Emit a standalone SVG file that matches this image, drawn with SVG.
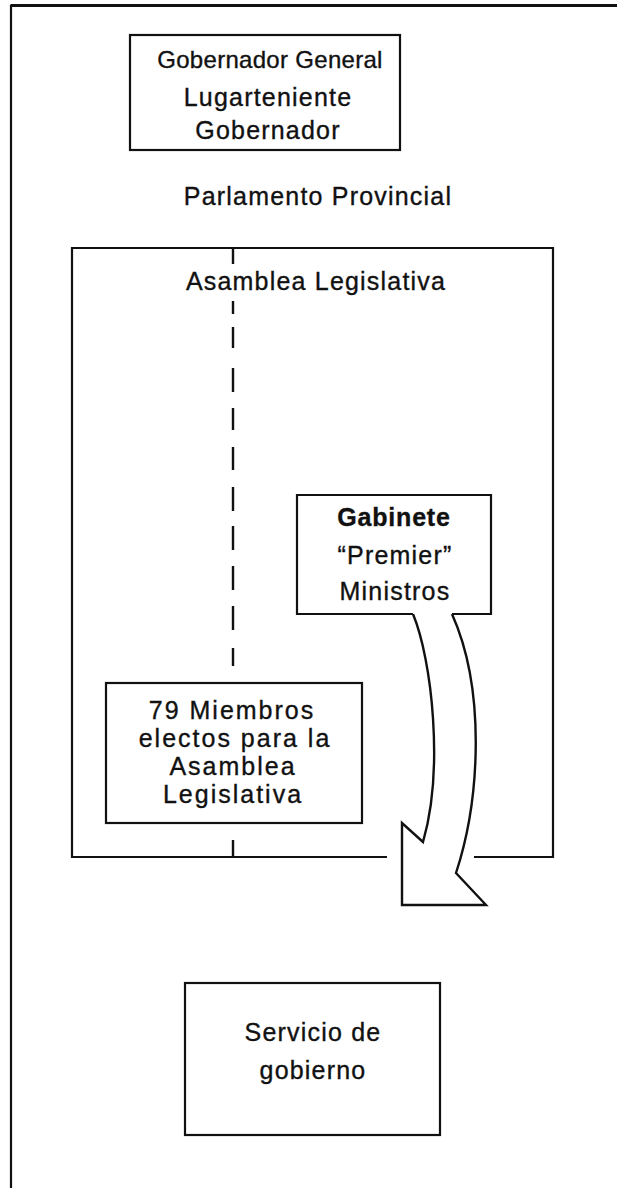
<svg xmlns="http://www.w3.org/2000/svg" width="617" height="1188" viewBox="0 0 617 1188">
<style>
.frame{fill:none;stroke:#111;stroke-width:2.2}
.box{fill:#fff;stroke:#111;stroke-width:2.2}
.open{fill:none;stroke:#111;stroke-width:2.2}
.t{font-family:"Liberation Sans",Arial,Helvetica,sans-serif;font-size:25px;letter-spacing:1.2px;text-anchor:middle;fill:#111;stroke:#111;stroke-width:0.35px}
.b{font-weight:bold;letter-spacing:0.8px}
.m{letter-spacing:2px}
.dash{fill:none;stroke:#111;stroke-width:2.4}
.arrow{fill:#fff;stroke:#111;stroke-width:2.4;stroke-linejoin:miter}
</style>
<rect width="617" height="1188" fill="#fff"/>
<g id="frame">
<path class="frame" d="M11,1188 V5.5 H617"/>
<path d="M11,5.5 H617" stroke="#111" stroke-width="3" fill="none"/>
</g>
<g id="gobernador">
<rect class="box" x="130" y="35" width="270" height="115"/>
<text class="t" x="270" y="68" style="font-size:24px;letter-spacing:0.3px">Gobernador General</text>
<text class="t" x="268" y="106">Lugarteniente</text>
<text class="t" x="268" y="139">Gobernador</text>
</g>
<g id="parlamento">
<text class="t" x="318" y="205">Parlamento Provincial</text>
</g>
<g id="asamblea">
<path class="open" d="M387,857 H72 V248 H553 V857 H474"/>
<text class="t" x="316" y="290">Asamblea Legislativa</text>
</g>
<g id="connectors">
<path class="dash" d="M233,248 V264 M233,301 V314 M233,327 V348 M233,368 V392 M233,408 V430 M233,447 V470 M233,487 V511 M233,526 V550 M233,566 V590 M233,606 V630 M233,648 V666 M233,840 V857"/>
<path class="arrow" d="M413,614 C432,660 444,770 423,842 L402,823 L402,905 L486,905 L456,873 C480,800 486,690 452,614"/>
</g>
<g id="gabinete">
<path class="box" d="M413,614 H297 V495 H491 V614 H452"/>
<text class="t b" x="394" y="526">Gabinete</text>
<text class="t" x="395" y="564">“Premier”</text>
<text class="t" x="395" y="600">Ministros</text>
</g>
<g id="miembros">
<rect class="box" x="106" y="683" width="256" height="140"/>
<text class="t m" x="232" y="719">79 Miembros</text>
<text class="t m" x="235" y="747">electos para la</text>
<text class="t m" x="233" y="775">Asamblea</text>
<text class="t m" x="233" y="803">Legislativa</text>
</g>
<g id="servicio">
<rect class="box" x="185" y="983" width="255" height="152"/>
<text class="t" x="313" y="1041">Servicio de</text>
<text class="t" x="313" y="1079">gobierno</text>
</g>
</svg>
